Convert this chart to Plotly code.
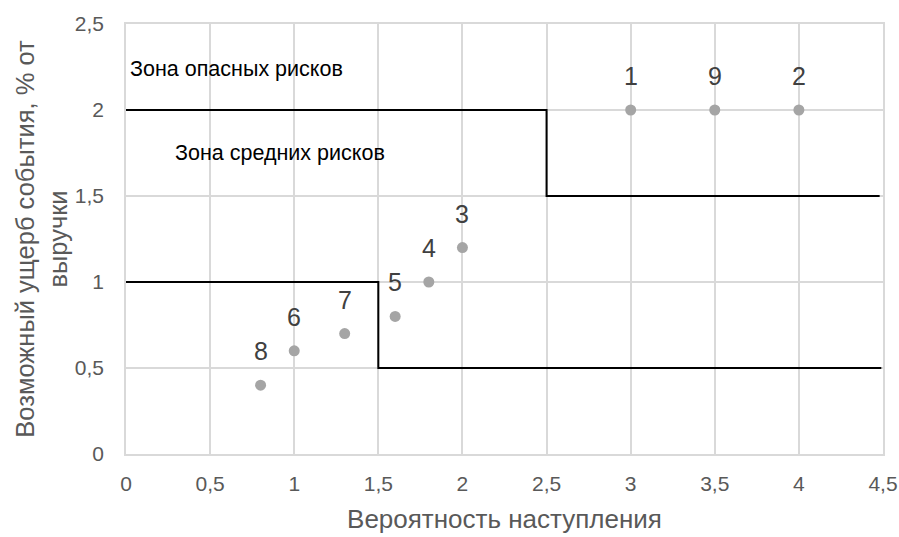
import plotly.graph_objects as go

# Data
point_labels = ["1", "2", "3", "4", "5", "6", "7", "8", "9"]
prob = [3.0, 4.0, 2.0, 1.8, 1.6, 1.0, 1.3, 0.8, 3.5]
damage = [2.0, 2.0, 1.2, 1.0, 0.8, 0.6, 0.7, 0.4, 2.0]

upper_x = [0, 2.5, 2.5, 4.48]
upper_y = [2, 2, 1.5, 1.5]
lower_x = [0, 1.5, 1.5, 4.49]
lower_y = [1, 1, 0.5, 0.5]

x_ticks = [0, 0.5, 1, 1.5, 2, 2.5, 3, 3.5, 4, 4.5]
x_tick_text = ["0", "0,5", "1", "1,5", "2", "2,5", "3", "3,5", "4", "4,5"]
y_ticks = [0, 0.5, 1, 1.5, 2, 2.5]
y_tick_text = ["0", "0,5", "1", "1,5", "2", "2,5"]

zone_texts = ["Зона опасных рисков", "Зона средних рисков"]
zone_x = [0.01, 0.28]
zone_y = [2.24, 1.75]

FONT = "Liberation Sans"

fig = go.Figure()
fig.add_trace(go.Scatter(x=upper_x, y=upper_y, mode="lines",
                         line=dict(color="black", width=2), hoverinfo="skip"))
fig.add_trace(go.Scatter(x=lower_x, y=lower_y, mode="lines",
                         line=dict(color="black", width=2), hoverinfo="skip"))
fig.add_trace(go.Scatter(x=prob, y=damage, mode="markers", text=point_labels,
                         marker=dict(color="#A5A5A5", size=11)))

# point labels above markers
for lbl, xx, yy in zip(point_labels, prob, damage):
    fig.add_annotation(x=xx, y=yy, text=lbl, showarrow=False, xanchor="center",
                       yanchor="middle", yshift=34,
                       font=dict(family=FONT, size=25, color="#404040"))

for t, xx, yy in zip(zone_texts, zone_x, zone_y):
    fig.add_annotation(x=xx, y=yy, text=t, showarrow=False, xanchor="left",
                       yanchor="middle", font=dict(family=FONT, size=21.5, color="black"))

fig.update_layout(
    width=899, height=537,
    margin=dict(l=126, r=16, t=24, b=83),
    plot_bgcolor="white", paper_bgcolor="white",
    showlegend=False,
    font=dict(family=FONT, color="#595959"),
    xaxis=dict(range=[0, 4.5], tickvals=x_ticks, ticktext=x_tick_text,
               showgrid=True, gridcolor="#D9D9D9", gridwidth=1.5,
               showline=True, linecolor="#D9D9D9", linewidth=1.5, mirror=True,
               zeroline=False, ticks="", automargin=False, ticklabelstandoff=10,
               tickfont=dict(family=FONT, size=21, color="#595959"),
               title=dict(text="Вероятность наступления",
                          font=dict(family=FONT, size=26, color="#595959"), standoff=16)),
    yaxis=dict(range=[0, 2.5], tickvals=y_ticks, ticktext=y_tick_text,
               showgrid=True, gridcolor="#D9D9D9", gridwidth=1.5,
               showline=True, linecolor="#D9D9D9", linewidth=1.5, mirror=True,
               zeroline=False, ticks="", ticklabelstandoff=16, automargin=False,
               tickfont=dict(family=FONT, size=21, color="#595959"),
               title=dict(text="Возможный ущерб события, % от<br>выручки",
                          font=dict(family=FONT, size=25.5, color="#595959"), standoff=0)),
)

fig.write_html("out.html", config={"displayModeBar": False},
               post_script="document.body.style.margin='0';document.body.style.overflow='hidden';")
